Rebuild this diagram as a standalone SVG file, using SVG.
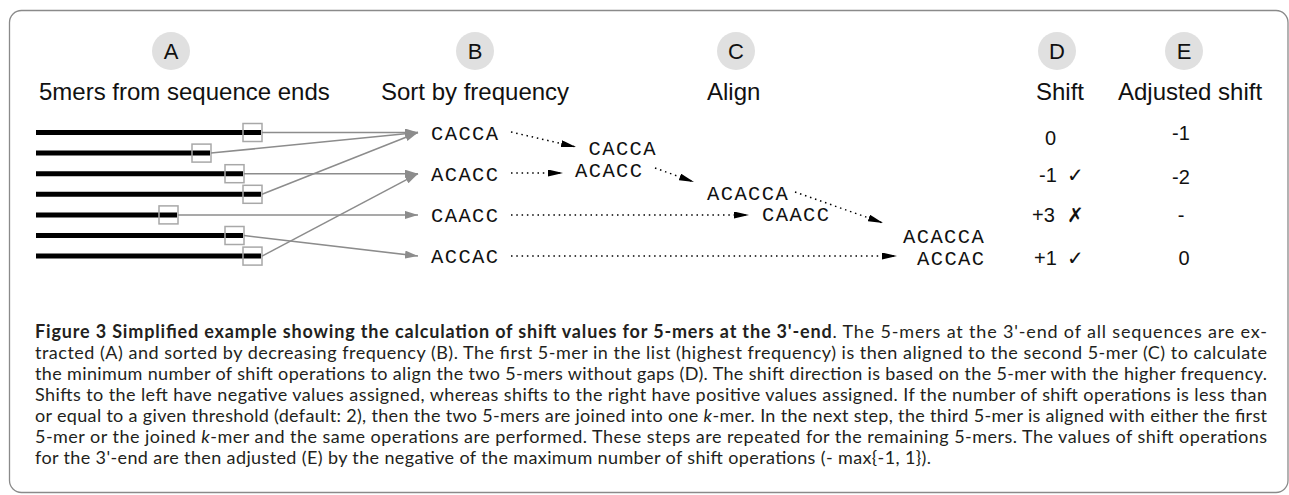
<svg xmlns="http://www.w3.org/2000/svg" width="1289" height="495" viewBox="0 0 1289 495">
<style>
.frame{fill:none;stroke:#8a8a8a;stroke-width:1.3}
.circ{fill:#e0e0e0}
.lbl{font-family:"Liberation Sans",Arial,sans-serif;font-size:22px;fill:#111;text-anchor:middle}
.hdr{font-family:"Liberation Sans",Arial,sans-serif;font-size:24px;fill:#111}
.seq{stroke:#000;stroke-width:5}
.box{fill:none;stroke:#a8a8a8;stroke-width:1.5}
.garr{stroke:#8c8c8c;stroke-width:1.5;fill:none;marker-end:url(#ga)}
.darr{stroke:#000;stroke-width:1.5;stroke-dasharray:1.5 3.8;fill:none;marker-end:url(#da)}
.mono{font-family:"Liberation Mono","Courier New",monospace;font-size:20.5px;letter-spacing:1.4px;fill:#111}
.val{font-family:"Liberation Sans",Arial,sans-serif;font-size:20px;fill:#111}
.mark{font-family:"DejaVu Sans",sans-serif;font-size:20px;font-weight:700;fill:#111}
.cap{font-family:Lato,"Open Sans",sans-serif;font-size:18px;fill:#231f20}
.b{font-weight:700}
.i{font-style:italic}
</style>
<defs>
<marker id="ga" markerWidth="13" markerHeight="8" refX="13" refY="4" orient="auto" markerUnits="userSpaceOnUse"><path d="M0,0 L13,4 L0,8 Z" fill="#8c8c8c"/></marker>
<marker id="da" markerWidth="15" markerHeight="7" refX="15" refY="3.5" orient="auto" markerUnits="userSpaceOnUse"><path d="M0,0 L15,3.5 L0,7 Z" fill="#000"/></marker>
</defs>
<rect class="frame" x="9.5" y="10.5" width="1278.5" height="482" rx="12"/>

<g id="header-A"><circle class="circ" cx="171" cy="51" r="19"/><text class="lbl" x="171" y="59">A</text><text class="hdr" x="39" y="100">5mers from sequence ends</text></g>
<g id="header-B"><circle class="circ" cx="475" cy="51" r="19"/><text class="lbl" x="475" y="59">B</text><text class="hdr" x="381" y="100">Sort by frequency</text></g>
<g id="header-C"><circle class="circ" cx="736" cy="51" r="19"/><text class="lbl" x="736" y="59">C</text><text class="hdr" x="707" y="100">Align</text></g>
<g id="header-D"><circle class="circ" cx="1057" cy="51" r="19"/><text class="lbl" x="1057" y="59">D</text><text class="hdr" x="1036" y="100">Shift</text></g>
<g id="header-E"><circle class="circ" cx="1184" cy="51" r="19"/><text class="lbl" x="1184" y="59">E</text><text class="hdr" x="1118" y="100">Adjusted shift</text></g>

<g id="sequences">
<line class="seq" x1="36" y1="132.5" x2="261" y2="132.5"/>
<line class="seq" x1="36" y1="153.1" x2="210" y2="153.1"/>
<line class="seq" x1="36" y1="173.7" x2="243" y2="173.7"/>
<line class="seq" x1="36" y1="194.3" x2="261" y2="194.3"/>
<line class="seq" x1="36" y1="214.9" x2="177" y2="214.9"/>
<line class="seq" x1="36" y1="235.5" x2="243" y2="235.5"/>
<line class="seq" x1="36" y1="256.1" x2="261" y2="256.1"/>
<rect class="box" x="243" y="123.5" width="19" height="18"/>
<rect class="box" x="192" y="144.1" width="19" height="18"/>
<rect class="box" x="225" y="164.7" width="19" height="18"/>
<rect class="box" x="243" y="185.3" width="19" height="18"/>
<rect class="box" x="159" y="205.9" width="19" height="18"/>
<rect class="box" x="225" y="226.5" width="19" height="18"/>
<rect class="box" x="243" y="247.1" width="19" height="18"/>
</g>

<g id="kmer-CACCA"><text class="mono" x="431" y="140">CACCA</text></g>
<g id="kmer-ACACC"><text class="mono" x="431" y="181">ACACC</text></g>
<g id="kmer-CAACC"><text class="mono" x="431" y="222">CAACC</text></g>
<g id="kmer-ACCAC"><text class="mono" x="431" y="263">ACCAC</text></g>

<g id="align-1"><text class="mono" x="588.5" y="155">CACCA</text><text class="mono" x="575" y="177">ACACC</text></g>
<g id="align-2"><text class="mono" x="707" y="200">ACACCA</text><text class="mono" x="762" y="221">CAACC</text></g>
<g id="align-3"><text class="mono" x="903" y="243">ACACCA</text><text class="mono" x="917" y="265">ACCAC</text></g>

<g id="shift-values">
<text class="val" x="1045" y="145">0</text>
<text class="val" x="1039" y="182">-1</text><text class="mark" x="1067" y="182">✓</text>
<text class="val" x="1032" y="222">+3</text><text class="mark" x="1067" y="222">✗</text>
<text class="val" x="1034" y="265">+1</text><text class="mark" x="1067" y="265">✓</text>
</g>
<g id="adjusted-values">
<text class="val" x="1181" y="140" text-anchor="middle">-1</text>
<text class="val" x="1181" y="184" text-anchor="middle">-2</text>
<text class="val" x="1181" y="222" text-anchor="middle">-</text>
<text class="val" x="1184" y="265" text-anchor="middle">0</text>
</g>

<g id="connectors">
<line class="garr" x1="262" y1="132.5" x2="418" y2="132.5"/>
<line class="garr" x1="211" y1="153.1" x2="418" y2="132.5"/>
<line class="garr" x1="244" y1="173.7" x2="418" y2="173.7"/>
<line class="garr" x1="262" y1="194.3" x2="418" y2="132.5"/>
<line class="garr" x1="178" y1="214.9" x2="418" y2="214.9"/>
<line class="garr" x1="244" y1="235.5" x2="418" y2="256.1"/>
<line class="garr" x1="262" y1="256.1" x2="418" y2="173.7"/>
<line class="darr" x1="511" y1="132" x2="576" y2="147"/>
<line class="darr" x1="511" y1="173" x2="563" y2="173"/>
<line class="darr" x1="655" y1="168" x2="694" y2="182"/>
<line class="darr" x1="511" y1="215" x2="749" y2="215"/>
<line class="darr" x1="795" y1="192" x2="883" y2="223"/>
<line class="darr" x1="511" y1="256" x2="897" y2="256"/>
</g>

<g id="caption">
<text class="cap" x="35" y="338" textLength="1232" lengthAdjust="spacing"><tspan class="b">Figure 3 Simplified example showing the calculation of shift values for 5-mers at the 3'-end</tspan>. The 5-mers at the 3'-end of all sequences are ex-</text>
<text class="cap" x="35" y="359" textLength="1232" lengthAdjust="spacing">tracted (A) and sorted by decreasing frequency (B). The first 5-mer in the list (highest frequency) is then aligned to the second 5-mer (C) to calculate</text>
<text class="cap" x="35" y="380" textLength="1232" lengthAdjust="spacing">the minimum number of shift operations to align the two 5-mers without gaps (D). The shift direction is based on the 5-mer with the higher frequency.</text>
<text class="cap" x="35" y="401" textLength="1232" lengthAdjust="spacing">Shifts to the left have negative values assigned, whereas shifts to the right have positive values assigned. If the number of shift operations is less than</text>
<text class="cap" x="35" y="422" textLength="1232" lengthAdjust="spacing">or equal to a given threshold (default: 2), then the two 5-mers are joined into one <tspan class="i">k</tspan>-mer. In the next step, the third 5-mer is aligned with either the first</text>
<text class="cap" x="35" y="443" textLength="1232" lengthAdjust="spacing">5-mer or the joined <tspan class="i">k</tspan>-mer and the same operations are performed. These steps are repeated for the remaining 5-mers. The values of shift operations</text>
<text class="cap" x="35" y="464" textLength="896" lengthAdjust="spacing">for the 3'-end are then adjusted (E) by the negative of the maximum number of shift operations (- max{-1, 1}).</text>
</g>
</svg>
